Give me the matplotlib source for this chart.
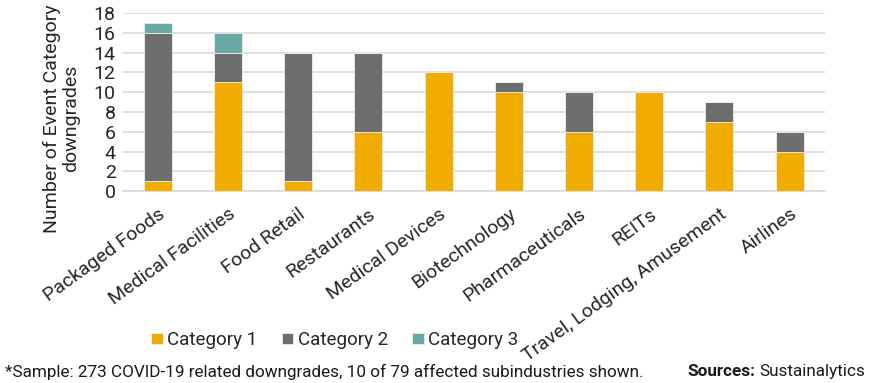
import numpy as np
import matplotlib.pyplot as plt

plt.rcParams['font.family'] = ['Roboto', 'DejaVu Sans']

categories = ['Packaged Foods', 'Medical Facilities', 'Food Retail', 'Restaurants',
              'Medical Devices', 'Biotechnology', 'Pharmaceuticals', 'REITs',
              'Travel, Lodging, Amusement', 'Airlines']
cat1 = [1, 11, 1, 6, 12, 10, 6, 10, 7, 4]
cat2 = [15, 3, 13, 8, 0, 1, 4, 0, 2, 2]
cat3 = [1, 2, 0, 0, 0, 0, 0, 0, 0, 0]
series_names = ['Category 1', 'Category 2', 'Category 3']
colors = ['#F0AC00', '#6D6F6F', '#6AA8A3']

fig = plt.figure(figsize=(8.7, 3.83), dpi=100)
ax = fig.add_axes([0.141, 0.501, 0.807, 0.465])

x = np.arange(len(categories))
bottom = np.zeros(len(categories))
handles = []
for vals, name, c in zip([cat1, cat2, cat3], series_names, colors):
    vals = np.array(vals)
    b = ax.bar(x, vals, 0.4, bottom=bottom, color=c, edgecolor='#EDEDED',
               linewidth=0.6, label=name, zorder=3)
    handles.append(b)
    bottom += vals

ax.set_ylim(0, 18)
ax.set_yticks(range(0, 19, 2))
ax.set_xlim(-0.5, len(categories) - 0.5)
ax.yaxis.grid(True, color='#D9D9D9', linewidth=1.2, zorder=0)
for s in ['top', 'right', 'left']:
    ax.spines[s].set_visible(False)
ax.spines['bottom'].set_color('#D9D9D9')
ax.spines['bottom'].set_linewidth(1.2)
ax.tick_params(axis='both', length=0, labelsize=14, colors='#262626')
ax.tick_params(axis='y', pad=5)
ax.set_xticks(x)
ax.set_xticklabels(categories, rotation=36, ha='right', rotation_mode='anchor')
ax.tick_params(axis='x', pad=10)

fig.text(0.071, 0.69, 'Number of Event Category\ndowngrades', fontsize=14,
         color='#262626', rotation=90, ha='center', va='center', linespacing=1.1,
         multialignment='center')

fig.legend(handles=handles, loc='center', bbox_to_anchor=(0.385, 0.112), ncol=3,
           frameon=False, fontsize=13.5, handlelength=0.6, handleheight=0.6,
           handletextpad=0.25, columnspacing=1.3, labelcolor='#262626')

fig.text(0.006, 0.03, '*Sample: 273 COVID-19 related downgrades, 10 of 79 affected subindustries shown.',
         fontsize=12.3, color='#1A1A1A', ha='left', va='center')
fig.text(0.994, 0.03, 'Sustainalytics', fontsize=12.3, color='#1A1A1A',
         ha='right', va='center')
fig.text(0.868, 0.03, 'Sources:', fontsize=12.3, color='#1A1A1A', fontweight='bold',
         ha='right', va='center')

fig.savefig('out.png', dpi=100)
